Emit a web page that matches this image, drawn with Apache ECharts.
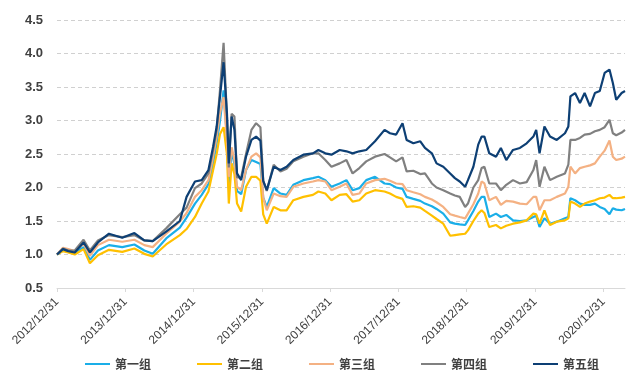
<!DOCTYPE html>
<html><head><meta charset="utf-8">
<script src="https://cdn.jsdelivr.net/npm/echarts@6/dist/echarts.min.js"></script>
<style>html,body{margin:0;padding:0;background:#fff}#c{width:633px;height:378px}</style>
</head><body><div id="c"></div>
<script>
const dates = ['2012-12-31','2013-02-01','2013-03-01','2013-04-05','2013-05-22','2013-06-25','2013-08-07','2013-10-05','2013-12-15','2014-02-18','2014-04-12','2014-05-27','2014-08-07','2014-10-19','2014-11-24','2015-01-08','2015-02-13','2015-03-21','2015-04-15','2015-05-04','2015-05-22','2015-06-10','2015-06-28','2015-07-08','2015-07-23','2015-08-07','2015-08-21','2015-09-12','2015-10-08','2015-11-06','2015-12-01','2015-12-24','2016-01-08','2016-01-27','2016-03-04','2016-04-09','2016-05-12','2016-06-17','2016-08-10','2016-09-30','2016-10-29','2016-12-05','2017-01-07','2017-02-20','2017-03-28','2017-04-30','2017-06-05','2017-07-12','2017-08-28','2017-10-18','2017-11-16','2017-12-19','2018-01-22','2018-02-13','2018-03-21','2018-04-27','2018-05-22','2018-06-28','2018-07-23','2018-08-28','2018-10-04','2018-10-29','2018-11-24','2018-12-23','2019-01-07','2019-02-05','2019-03-03','2019-03-21','2019-04-05','2019-05-01','2019-06-06','2019-07-02','2019-07-31','2019-09-05','2019-10-12','2019-11-17','2019-12-23','2020-01-07','2020-01-25','2020-02-20','2020-03-21','2020-04-26','2020-06-09','2020-06-27','2020-07-08','2020-08-02','2020-08-28','2020-09-22','2020-10-21','2020-11-16','2020-12-12','2021-01-07','2021-02-02','2021-02-20','2021-03-10','2021-04-08','2021-04-26'];

const group1 = [1.00,1.06,1.04,1.02,1.11,0.92,1.06,1.14,1.11,1.15, 1.06,1.01,1.24,1.40,1.55,1.76,1.89,2.05,2.36,2.66, 3.00,3.45,2.75,2.00,2.55,2.35,1.95,1.90,2.26,2.41, 2.38,2.35,1.85,1.71,1.99,1.91,1.89,2.04,2.11,2.14, 2.16,2.11,2.01,2.06,2.11,1.96,1.99,2.11,2.16,2.06, 2.05,2.00,1.98,1.86,1.83,1.80,1.76,1.72,1.68,1.61, 1.48,1.46,1.45,1.44,1.51,1.65,1.79,1.86,1.86,1.56, 1.61,1.56,1.59,1.51,1.50,1.51,1.56,1.58,1.41,1.54, 1.46,1.49,1.54,1.56,1.84,1.81,1.76,1.74,1.74,1.76, 1.71,1.68,1.60,1.69,1.67,1.66,1.68];
const group2 = [1.00,1.05,1.03,1.00,1.08,0.87,0.99,1.07,1.04,1.09, 1.01,0.97,1.15,1.29,1.38,1.56,1.76,1.94,2.26,2.50, 2.80,2.90,2.50,1.76,2.36,2.20,1.76,1.64,2.01,2.16, 2.16,2.10,1.60,1.46,1.71,1.66,1.66,1.81,1.86,1.89, 1.94,1.91,1.81,1.89,1.90,1.79,1.81,1.91,1.96,1.94, 1.91,1.86,1.83,1.71,1.72,1.70,1.65,1.58,1.53,1.46, 1.28,1.29,1.30,1.31,1.36,1.50,1.61,1.66,1.62,1.41, 1.44,1.39,1.43,1.46,1.48,1.51,1.61,1.60,1.46,1.66, 1.44,1.49,1.51,1.54,1.79,1.76,1.71,1.76,1.79,1.81, 1.84,1.85,1.89,1.84,1.84,1.85,1.86];
const group3 = [1.00,1.10,1.08,1.05,1.16,0.98,1.14,1.22,1.19,1.22, 1.14,1.11,1.31,1.49,1.62,1.86,1.96,2.11,2.46,2.76, 3.11,3.35,2.70,2.16,2.60,2.41,2.01,1.96,2.26,2.46, 2.51,2.45,1.85,1.66,1.91,1.87,1.86,2.01,2.06,2.09, 2.11,2.09,1.96,2.01,2.06,1.89,1.91,2.06,2.11,2.13, 2.10,2.06,2.05,1.96,1.93,1.90,1.86,1.82,1.78,1.71, 1.60,1.58,1.56,1.54,1.61,1.75,1.91,2.09,2.06,1.81, 1.86,1.74,1.80,1.79,1.76,1.75,1.86,1.86,1.66,1.81, 1.81,1.86,1.91,2.01,2.31,2.21,2.29,2.31,2.33,2.36, 2.46,2.55,2.70,2.46,2.41,2.43,2.46];
const group4 = [1.00,1.09,1.06,1.06,1.22,1.06,1.21,1.29,1.26,1.29, 1.21,1.20,1.39,1.60,1.70,1.99,2.06,2.21,2.56,2.86, 3.46,4.16,3.05,2.30,3.10,3.06,2.15,2.15,2.50,2.86, 2.96,2.90,2.10,1.95,2.34,2.24,2.28,2.39,2.46,2.51, 2.51,2.41,2.31,2.36,2.41,2.21,2.29,2.39,2.46,2.50, 2.45,2.39,2.45,2.24,2.25,2.20,2.21,2.06,2.00,1.96, 1.91,1.88,1.86,1.71,1.76,2.00,2.11,2.29,2.31,2.06, 2.06,1.96,2.04,2.11,2.06,2.08,2.26,2.41,2.01,2.31, 2.11,2.16,2.21,2.34,2.71,2.71,2.74,2.79,2.80,2.84, 2.86,2.90,3.01,2.81,2.78,2.82,2.86];
const group5 = [1.00,1.08,1.05,1.03,1.18,1.03,1.18,1.31,1.25,1.32, 1.21,1.20,1.34,1.50,1.86,2.09,2.11,2.26,2.61,2.91, 3.36,3.87,3.11,2.36,3.06,2.86,2.21,2.11,2.46,2.71, 2.76,2.70,2.10,1.96,2.31,2.26,2.31,2.41,2.49,2.51, 2.56,2.51,2.49,2.56,2.54,2.51,2.54,2.56,2.69,2.86, 2.81,2.79,2.96,2.71,2.66,2.69,2.59,2.51,2.36,2.31, 2.21,2.14,2.09,2.01,2.11,2.31,2.64,2.76,2.76,2.51, 2.46,2.59,2.41,2.56,2.59,2.66,2.76,2.86,2.51,2.91, 2.76,2.71,2.81,2.91,3.36,3.41,3.26,3.41,3.21,3.41, 3.44,3.71,3.76,3.56,3.31,3.41,3.44];

const seriesNames = ['第一组','第二组','第三组','第四组','第五组'];
const seriesColors = ['#1aaee8','#ffc000','#f4b183','#808080','#0d3f74'];
const yTicks = [0.5,1.0,1.5,2.0,2.5,3.0,3.5,4.0,4.5];
const xTickLabels = ['2012/12/31','2013/12/31','2014/12/31','2015/12/31','2016/12/31','2017/12/31','2018/12/31','2019/12/31','2020/12/31'];

const base = Date.UTC(2012,11,31);
const yearMs = 365.25*86400000;
function toYears(s){const p=s.split('-').map(Number);return (Date.UTC(p[0],p[1]-1,p[2])-base)/yearMs;}
const xs = dates.map(toYears);
const groups = [group1,group2,group3,group4,group5];
const tickIdx = xTickLabels.map((_,i)=>i);

const chart = echarts.init(document.getElementById('c'), null, {renderer:'canvas'});
chart.setOption({
  animation:false,
  backgroundColor:'#fff',
  grid:{left:57,right:8,top:20,bottom:90,containLabel:false},
  legend:{
    left:80, top:353, itemWidth:25, itemHeight:10, itemGap:46,
    icon:'path://M0,4L25,4L25,6L0,6Z',
    textStyle:{fontFamily:'"Noto Sans CJK SC"',fontSize:12,color:'#404040',fontWeight:'bold'},
    data:seriesNames
  },
  xAxis:{
    type:'value', min:0, max:xs[xs.length-1], interval:1,
    axisLine:{show:true,lineStyle:{color:'#d9d9d9',width:1}},
    axisTick:{show:true,length:4,lineStyle:{color:'#d9d9d9'},customValues:tickIdx},
    splitLine:{show:false},
    axisLabel:{customValues:tickIdx,rotate:45,margin:12,fontSize:12,color:'#404040',fontFamily:'Liberation Sans, Arial',
      formatter:v=>xTickLabels[Math.round(v)]||''}
  },
  yAxis:{
    type:'value', min:yTicks[0], max:yTicks[yTicks.length-1], interval:0.5,
    axisLine:{show:false}, axisTick:{show:false},
    splitLine:{show:true,lineStyle:{color:'#d0d0d0',type:[4,3],width:1}},
    axisLabel:{margin:14,fontSize:13,color:'#404040',fontFamily:'Liberation Sans, Arial',fontWeight:'bold',formatter:v=>v.toFixed(1)}
  },
  series:groups.map((g,i)=>({
    name:seriesNames[i], type:'line', symbol:'none', smooth:false,
    lineStyle:{width:2.2,color:seriesColors[i]}, itemStyle:{color:seriesColors[i]},
    data:g.map((v,j)=>[xs[j],v]), z:2+i
  }))
});
</script></body></html>
